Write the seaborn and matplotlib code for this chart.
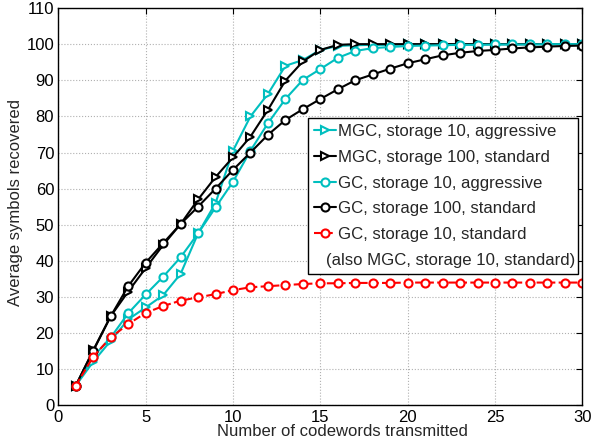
import matplotlib
matplotlib.use('Agg')
import matplotlib.pyplot as plt
import seaborn as sns
from matplotlib.lines import Line2D

# DADOS
codewords = list(range(1, 31))

mgc_10_aggr = [5.5, 12.1, 17.9, 23.8, 27.1, 30.5, 36.4, 47.6, 56.0, 70.5,
               80.0, 86.2, 94.0, 95.6, 98.4, 99.5, 99.7, 99.8, 99.8, 99.9,
               99.9, 99.9, 100, 100, 100, 100, 100, 100, 100, 100]
mgc_100_std = [5.5, 15.3, 24.7, 31.5, 38.0, 44.4, 50.2, 57.0, 63.2, 68.7,
               74.4, 81.8, 89.9, 95.2, 98.4, 99.8, 100, 100, 100, 100,
               100, 100, 100, 100, 100, 100, 100, 100, 100, 100]
gc_10_aggr = [5.5, 13.5, 18.8, 25.5, 30.7, 35.6, 41.0, 47.6, 54.8, 61.9,
              70.5, 78.1, 84.8, 90.1, 93.1, 96.2, 98.1, 98.9, 99.2, 99.5,
              99.6, 99.7, 99.8, 99.8, 99.9, 99.9, 99.9, 100, 100, 100]
gc_100_std = [5.5, 15.1, 24.7, 33.0, 39.5, 44.9, 50.2, 55.0, 60.0, 65.2,
              70.0, 74.9, 79.0, 82.0, 84.8, 87.5, 90.0, 91.6, 93.2, 94.7,
              95.8, 96.9, 97.6, 98.1, 98.4, 98.8, 99.1, 99.3, 99.5, 99.6]
gc_10_std = [5.5, 13.5, 18.8, 22.5, 25.6, 27.5, 29.0, 29.9, 30.8, 31.9,
             32.7, 33.0, 33.3, 33.6, 33.8, 33.8, 33.9, 33.9, 33.9, 34.0,
             34.0, 34.0, 34.0, 34.0, 34.0, 34.0, 34.0, 34.0, 34.0, 34.0]

labels = ['MGC, storage 10, aggressive',
          'MGC, storage 100, standard',
          'GC, storage 10, aggressive',
          'GC, storage 100, standard',
          'GC, storage 10, standard']
extra_label = '(also MGC, storage 10, standard)'

cyan = (0, 0.75, 0.75)
series = [
    (mgc_10_aggr, cyan, '>', '-'),
    (mgc_100_std, 'black', '>', '-'),
    (gc_10_aggr, cyan, 'o', '-'),
    (gc_100_std, 'black', 'o', '-'),
    (gc_10_std, 'red', 'o', '--'),
]

# ESTILO
sns.set_style('white')
plt.rcParams['font.family'] = ['Liberation Sans', 'DejaVu Sans']
plt.rcParams['font.size'] = 12

fig = plt.figure(figsize=(5.91, 4.45), dpi=100)
ax = fig.add_axes([0.0987, 0.089, 0.8866, 0.893])

for (vals, color, marker, ls), lab in zip(series, labels):
    sns.lineplot(x=codewords, y=vals, ax=ax, color=color, marker=marker,
                 linestyle=ls, linewidth=1.5, markersize=5.8,
                 markerfacecolor='white', markeredgecolor=color,
                 markeredgewidth=1.5, label=lab)

# EIXOS
ax.set_xlim(0, 30)
ax.set_ylim(0, 110)
ax.set_xticks(range(0, 31, 5))
ax.set_yticks(range(0, 111, 10))
ax.set_xlabel('Number of codewords transmitted', fontsize=12)
ax.set_ylabel('Average symbols recovered', fontsize=12)
ax.xaxis.set_label_coords(0.5427, -0.048)
ax.yaxis.set_label_coords(-0.0674, 0.511)
ax.tick_params(direction='in', length=4, width=0.8, top=True, right=True,
               labelsize=12, colors='black', pad=3)
ax.grid(True, linestyle=':', color='#b0b0b0', linewidth=0.8)
for sp in ax.spines.values():
    sp.set_visible(True)
    sp.set_color('black')
    sp.set_linewidth(1.0)

# LEGENDA (a última linha fica deslocada para a esquerda, como no original)
handles, labs = ax.get_legend_handles_labels()
handles.append(Line2D([], [], linestyle='none'))
labs.append(extra_label[:-2])
leg = ax.legend(handles, labs, loc='upper right', bbox_to_anchor=(0.9924, 0.7227),
                borderaxespad=0, frameon=True, fancybox=False, framealpha=1,
                edgecolor='black', handlelength=1.3, handletextpad=0.15,
                labelspacing=0.64, borderpad=0.35, fontsize=12.1)
leg.get_frame().set_linewidth(1.0)
spacer = leg.get_texts()[-1]
spacer.set_alpha(0)
ax.annotate(extra_label, xy=(0, 0), xycoords=spacer, xytext=(-12, 0),
            textcoords='offset pixels', ha='left', va='bottom',
            fontsize=12.1, zorder=10)

fig.savefig('out.png', dpi=100)
